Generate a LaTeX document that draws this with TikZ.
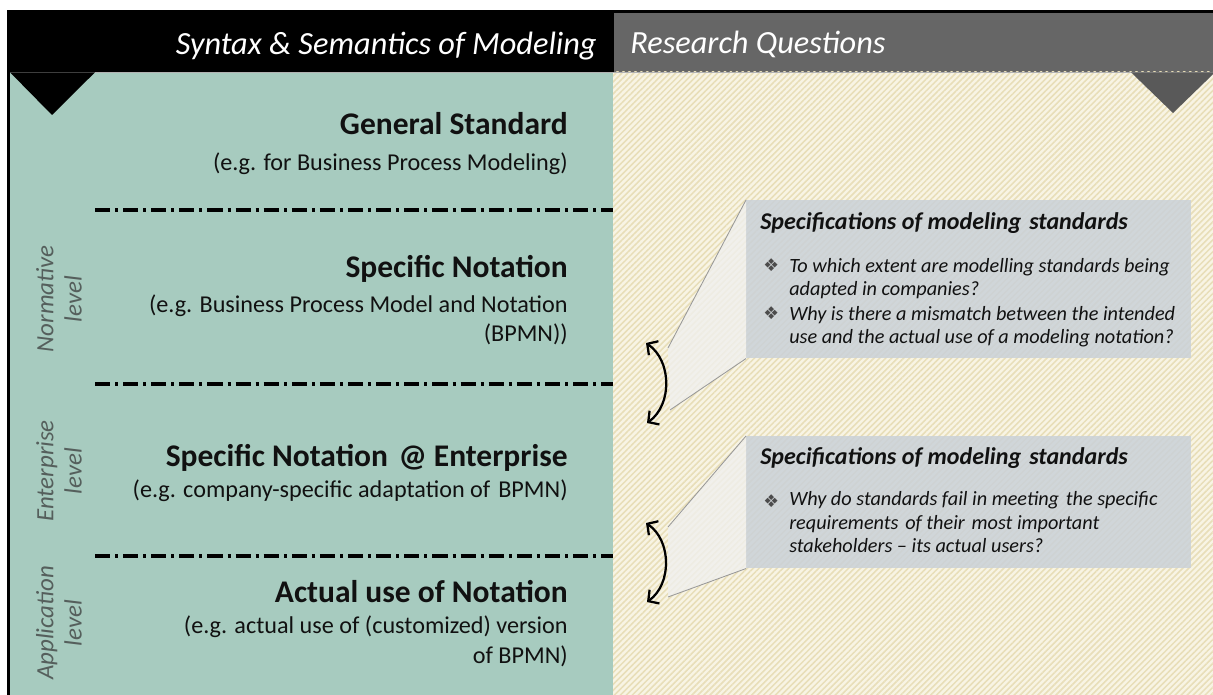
\documentclass[tikz,border=0pt]{standalone}
\usepackage{fontspec}
\setmainfont{Carlito}
\newfontfamily\symfont{DejaVu Sans}
\usetikzlibrary{positioning,arrows.meta,patterns.meta}

\definecolor{panelgreen}{RGB}{167,203,191}
\definecolor{headgray}{RGB}{102,102,102}
\definecolor{cream}{RGB}{248,244,228}
\definecolor{creamline}{RGB}{232,222,184}
\definecolor{boxblue}{RGB}{202,209,216}
\definecolor{calloutgray}{RGB}{240,240,238}
\definecolor{levelgray}{RGB}{85,95,92}
\definecolor{ink}{RGB}{17,17,17}

\tikzset{
  header/.style={font=\fontsize{23}{27}\selectfont\itshape, text=white, inner sep=0},
  levelname/.style={font=\fontsize{22.4}{27}\selectfont\bfseries, text=ink, inner sep=0, anchor=base east},
  example/.style={font=\fontsize{17.2}{21.3}\selectfont, text=ink, align=right, inner sep=0},
  levellabel/.style={font=\fontsize{17.7}{20}\selectfont\itshape, text=levelgray, rotate=90, align=center, inner sep=0},
  levelline/.style={line width=2.5pt, dash pattern=on 10.7pt off 3.6pt on 2.1pt off 3.6pt},
  rqbox/.style={fill=boxblue, fill opacity=0.85, draw=none},
  callout/.style={fill=calloutgray, fill opacity=0.8, draw=none},
  calloutedge/.style={draw=gray!80, line width=0.6pt},
  rqtitle/.style={font=\fontsize{17.1}{20}\selectfont\bfseries\itshape, text=ink, inner sep=0, anchor=base west},
  rqitem/.style={font=\fontsize{14.4}{17}\selectfont\itshape, text=ink, align=left, inner sep=0, anchor=base west},
  bullet/.style={font=\symfont\fontsize{12.5}{14}\selectfont, text=ink!75, inner sep=0, anchor=base west},
  swing/.style={{Straight Barb[length=5.5pt,width=12pt]}-{Straight Barb[length=5.5pt,width=12pt]}, line width=1.6pt}
}

\begin{document}
\begin{tikzpicture}[x=0.025cm, y=-0.025cm]
\useasboundingbox (0,0) rectangle (1213,695);

% header band and panels
\fill[black] (7,10) rectangle (1213,72);
\fill[headgray] (614,13) rectangle (1213,72);
\fill[black] (7,72) rectangle (613,695);
\fill[panelgreen] (10,72) rectangle (613,695);
\fill[cream] (613,72) rectangle (1213,695);
\fill[pattern={Lines[angle=45,distance=3pt,line width=1.1pt]}, pattern color=creamline] (613,72) rectangle (1213,695);
\draw[gray!60, line width=0.5pt] (10,72) -- (1213,72);
\fill[black] (10,72.3) -- (95,72.3) -- (52,115) -- cycle;
\fill[black!65] (1131,72.3) -- (1215,72.3) -- (1173,113) -- cycle;

\node[header, anchor=base east] (syn) at (597,55) {Syntax \& Semantics of Modeling};
\node[header, anchor=base west] (rq) at (630,54) {Research Questions};

% levels on the left
\node[levelname] (gen) at (568,135) {General Standard};
\node[example, below=25.6pt of gen.base east, anchor=base east] (genex) {(e.g. for Business Process Modeling)};

\node[levelname] (spec) at (568,278) {Specific Notation};
\node[example, below=45.5pt of spec.base east, anchor=base east] (specex) {(e.g. Business Process Model and Notation\\(BPMN))};

\node[levelname] (ent) at (568,467) {Specific Notation\,\,@ Enterprise};
\node[example, below=22pt of ent.base east, anchor=base east] (entex) {(e.g. company-specific adaptation of\,\,BPMN)};

\node[levelname] (act) at (568,603) {Actual use of Notation};
\node[example, below=42.7pt of act.base east, anchor=base east] (actex) {(e.g. actual use of (customized) version\\of BPMN)};

\coordinate (l1a) at (95,210);  \coordinate (l1b) at (613,210);
\coordinate (l2a) at (95,384);  \coordinate (l2b) at (613,384);
\coordinate (l3a) at (95,556);  \coordinate (l3b) at (613,556);
\draw[levelline] (l1a) -- (l1b);
\draw[levelline] (l2a) -- (l2b);
\draw[levelline] (l3a) -- (l3b);

\node[levellabel] (norm) at (59,299) {Normative\\level};
\node[levellabel] (enter) at (59,471) {Enterprise\\level};
\node[levellabel] (appl) at (59,623) {Application\\level};

% research questions, first box
\coordinate (c1t) at (668,348);
\coordinate (c1b) at (670,410);
\node[rqbox, minimum width=445*0.025cm, minimum height=158*0.025cm, anchor=north west] (rq1) at (746,200) {};
\fill[callout] (rq1.north west) -- (c1t) -- (c1b) -- (rq1.south west) -- cycle;
\draw[calloutedge] (rq1.north west) -- (c1t);
\draw[calloutedge] (rq1.south west) -- (c1b);
\node[rqtitle] (rq1t) at (760,230) {Specifications of modeling\,\,standards};
\node[bullet] (b1) at (763,272) {❖};
\node[rqitem] (q1) at (789,296) {To which extent are modelling standards being\\adapted in companies?};
\node[bullet] (b2) at (763,320) {❖};
\node[rqitem] (q2) at (789,344) {Why is there a mismatch between the intended\\use and the actual use of a modeling notation?};

\coordinate (a1t) at (646,343);
\coordinate (a1b) at (647,423);
\draw[swing] (a1t) to[bend left=55] (a1b);

% research questions, second box
\coordinate (c2t) at (668,527);
\coordinate (c2b) at (668,597);
\node[rqbox, minimum width=445*0.025cm, minimum height=132*0.025cm, anchor=north west] (rq2) at (746,436) {};
\fill[callout] (rq2.north west) -- (c2t) -- (c2b) -- (rq2.south west) -- cycle;
\draw[calloutedge] (rq2.north west) -- (c2t);
\draw[calloutedge] (rq2.south west) -- (c2b);
\node[rqtitle] (rq2t) at (760,465) {Specifications of modeling\,\,standards};
\node[bullet] (b3) at (763,507) {❖};
\node[rqitem] (q3) at (789,553) {Why do standards fail in meeting\,\,the specific\\requirements\,\,of their\,\,most important\\stakeholders -- its actual users?};

\coordinate (a2t) at (646,523);
\coordinate (a2b) at (647,602);
\draw[swing] (a2t) to[bend left=55] (a2b);
\end{tikzpicture}
\end{document}
